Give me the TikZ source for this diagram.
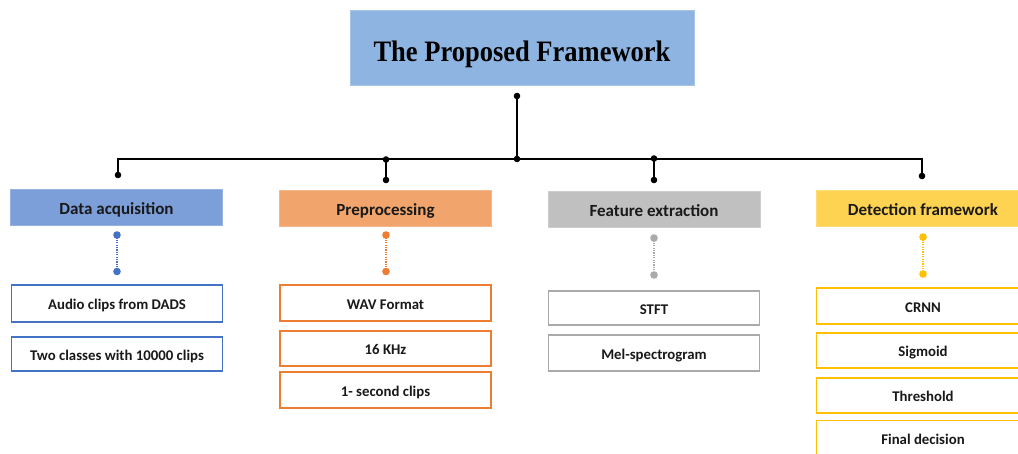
\documentclass[tikz,border=0pt]{standalone}
\usepackage{fontspec}
\setmainfont{Liberation Serif}
\newfontfamily\carlitofont{Carlito}
\definecolor{titlefill}{RGB}{142,181,226}
\definecolor{bluefill}{RGB}{124,159,217}
\definecolor{blueline}{RGB}{68,114,196}
\definecolor{orangefill}{RGB}{241,165,108}
\definecolor{orangeline}{RGB}{237,125,49}
\definecolor{greyfill}{RGB}{192,192,192}
\definecolor{greyline}{RGB}{170,170,170}
\definecolor{yellowfill}{RGB}{255,211,82}
\definecolor{yellowline}{RGB}{255,192,0}
\tikzset{
  cat/.style={minimum width=212pt, minimum height=36pt, inner sep=0pt, text height=14pt, text depth=0pt, font=\carlitofont\bfseries\fontsize{17}{19}\selectfont, text=black!90},
  sub/.style={draw, line width=1.4pt, fill=white, minimum width=211pt, inner sep=0pt, text height=12.6pt, text depth=0pt, font=\carlitofont\bfseries\fontsize{14.8}{17}\selectfont, text=black!90},
  bus/.style={line width=1.3pt, black},
  dotlink/.style={line width=1.1pt, dash pattern=on 1.2pt off 1.2pt},
}
\begin{document}
\begin{tikzpicture}[x=1pt,y=-1pt]
\useasboundingbox (0,0) rectangle (1018,453);
\begin{scope}
\clip (0,0) rectangle (1018,453);
% title
\node[fill=titlefill, draw=titlefill!80!white, minimum width=344pt, minimum height=75pt, inner sep=0pt,
  font=\bfseries\fontsize{26.5}{30}\selectfont] (title) at (522,47.5) {\raisebox{-14.3pt}[0pt][0pt]{\scalebox{1}[1.12]{The Proposed Framework}}};
% categories
\node[cat, fill=bluefill, draw=bluefill!80!white] (c1) at (116.5,207.5) {Data acquisition};
\node[cat, fill=orangefill, draw=orangefill!80!white] (c2) at (385.5,208) {Preprocessing};
\node[cat, fill=greyfill, draw=greyfill!80!white] (c3) at (654,209) {Feature extraction};
\node[cat, fill=yellowfill, draw=yellowfill!80!white, minimum width=214pt] (c4) at (923,208) {Detection framework};
% sub boxes
\node[sub, draw=blueline, minimum height=37pt] (d1) at (117,303.5) {Audio clips from DADS};
\node[sub, draw=blueline, minimum height=34pt] (d2) at (117,354) {Two classes with 10000 clips};
\node[sub, draw=orangeline, minimum height=36pt] (p1) at (385.5,303) {WAV Format};
\node[sub, draw=orangeline, minimum height=35pt] (p2) at (385.5,348.5) {16 KHz};
\node[sub, draw=orangeline, minimum height=36pt] (p3) at (385.5,390) {1- second clips};
\node[sub, draw=greyline, minimum height=34pt] (f1) at (654,308) {STFT};
\node[sub, draw=greyline, minimum height=36pt] (f2) at (654,353) {Mel-spectrogram};
\node[sub, draw=yellowline, minimum height=36pt, minimum width=213pt] (t1) at (923,306) {CRNN};
\node[sub, draw=yellowline, minimum height=35pt, minimum width=213pt] (t2) at (923,350.5) {Sigmoid};
\node[sub, draw=yellowline, minimum height=35pt, minimum width=213pt] (t3) at (923,395.5) {Threshold};
\node[sub, draw=yellowline, minimum height=36pt, minimum width=213pt] (t4) at (923,438.5) {Final decision};
% bus coordinates
\coordinate (top) at (517,96);
\coordinate (mid) at (517,159);
\coordinate (bl) at (118,159);
\coordinate (br) at (922,159);
\coordinate (e1) at (118,175);
\coordinate (e4) at (922,176);
\coordinate (j2) at (386,159.5);
\coordinate (e2) at (386,180);
\coordinate (j3) at (654,158.5);
\coordinate (e3) at (654,180);
\draw[bus] (top) -- (mid);
\draw[bus] (e1) -- (bl) -- (br) -- (e4);
\draw[bus] (j2) -- (e2);
\draw[bus] (j3) -- (e3);
\foreach \p in {top,mid,e1,e4,j2,e2,j3,e3} \fill (\p) circle (3.3pt);
% dotted links
\coordinate (a1) at (117,235); \coordinate (b1) at (117,271.5);
\coordinate (a2) at (386,235); \coordinate (b2) at (386,271.5);
\coordinate (a3) at (654,238); \coordinate (b3) at (654,275);
\coordinate (a4) at (923,237); \coordinate (b4) at (923,274);
\draw[dotlink, blueline] (a1) -- (b1);
\draw[dotlink, orangeline] (a2) -- (b2);
\draw[dotlink, greyline] (a3) -- (b3);
\draw[dotlink, yellowline] (a4) -- (b4);
\fill[blueline] (a1) circle (3.8pt) (b1) circle (3.8pt);
\fill[orangeline] (a2) circle (3.8pt) (b2) circle (3.8pt);
\fill[greyline] (a3) circle (3.8pt) (b3) circle (3.8pt);
\fill[yellowline] (a4) circle (3.8pt) (b4) circle (3.8pt);
\end{scope}
\end{tikzpicture}
\end{document}
